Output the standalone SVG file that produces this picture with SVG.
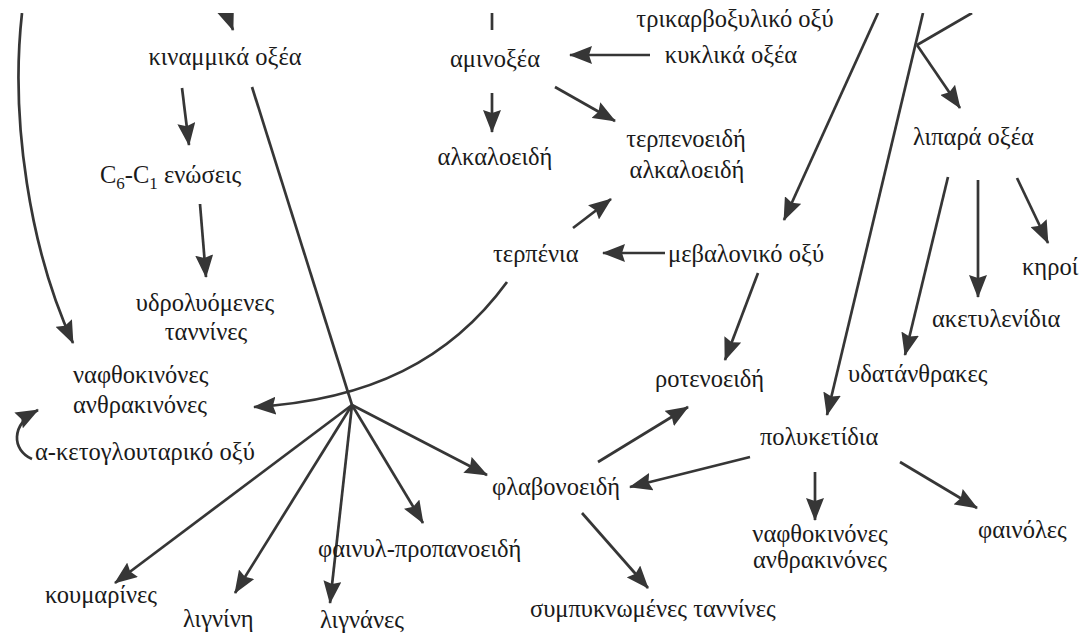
<svg xmlns="http://www.w3.org/2000/svg" width="1085" height="636" viewBox="0 0 1085 636">
<style>
.c{text-anchor:middle}
.ln{fill:none;stroke:#363636;stroke-width:2.7}
.ar{marker-end:url(#ah)}
</style>
<defs>
<marker id="ah" markerUnits="userSpaceOnUse" markerWidth="23" markerHeight="18" viewBox="0 0 23 18" refX="22" refY="9" orient="auto">
<path d="M0,0 L23,9 L0,18 L3,9 z" fill="#363636"/>
</marker>
<clipPath id="clip"><rect x="0" y="13" width="1085" height="623"/></clipPath>
</defs>
<rect width="1085" height="636" fill="#fff"/>
<g id="connectors" clip-path="url(#clip)">
<path class="ln" d="M22 13 C10 120 30 250 73 343" marker-end="url(#ah)"/>
<line class="ln ar" x1="222" y1="0" x2="233" y2="30"/>
<line class="ln" x1="492" y1="13" x2="492" y2="30"/>
<line class="ln ar" x1="182" y1="88" x2="189" y2="145"/>
<line class="ln ar" x1="200" y1="204" x2="206" y2="277"/>
<line class="ln" x1="252" y1="87" x2="352" y2="405"/>
<path class="ln ar" d="M507 282 C450 360 370 400 254 407"/>
<path class="ln ar" d="M32 459 C12 450 10 425 38 410"/>
<line class="ln ar" x1="352" y1="405" x2="115" y2="583"/>
<line class="ln ar" x1="352" y1="405" x2="235" y2="593"/>
<line class="ln ar" x1="352" y1="405" x2="330" y2="603"/>
<line class="ln ar" x1="352" y1="405" x2="423" y2="523"/>
<line class="ln ar" x1="352" y1="405" x2="487" y2="475"/>
<line class="ln ar" x1="650" y1="55" x2="570" y2="55"/>
<line class="ln ar" x1="492" y1="93" x2="492" y2="132"/>
<line class="ln ar" x1="555" y1="87" x2="615" y2="121"/>
<line class="ln ar" x1="573" y1="228" x2="611" y2="199"/>
<line class="ln ar" x1="665" y1="253" x2="603" y2="253"/>
<line class="ln ar" x1="758" y1="273" x2="725" y2="360"/>
<line class="ln ar" x1="598" y1="462" x2="688" y2="407"/>
<line class="ln ar" x1="750" y1="457" x2="630" y2="487"/>
<line class="ln ar" x1="582" y1="513" x2="648" y2="588"/>
<line class="ln ar" x1="815" y1="472" x2="815" y2="520"/>
<line class="ln ar" x1="900" y1="462" x2="977" y2="508"/>
<line class="ln ar" x1="878" y1="13" x2="784" y2="220"/>
<line class="ln ar" x1="923" y1="13" x2="827" y2="415"/>
<line class="ln" x1="972" y1="13" x2="917" y2="45"/>
<line class="ln ar" x1="917" y1="45" x2="960" y2="108"/>
<line class="ln ar" x1="948" y1="177" x2="905" y2="355"/>
<line class="ln ar" x1="978" y1="180" x2="978" y2="297"/>
<line class="ln ar" x1="1017" y1="178" x2="1048" y2="243"/>
</g>
<g font-family="'Times New Roman', 'Liberation Serif', 'DejaVu Serif', serif" font-size="24.5" fill="#1a1a1a">
<g id="kinammika"><text class="c" x="225" y="65">κιναμμικά οξέα</text></g>
<g id="c6c1"><text x="100" y="183">C<tspan font-size="17" dy="6">6</tspan><tspan dy="-6">-C</tspan><tspan font-size="17" dy="6">1</tspan><tspan dy="-6"> ενώσεις</tspan></text></g>
<g id="ydrolyomenes"><text class="c" x="205" y="311">υδρολυόμενες</text><text class="c" x="206" y="340">ταννίνες</text></g>
<g id="naftho-left"><text x="73" y="383">ναφθοκινόνες</text><text x="73" y="413">ανθρακινόνες</text></g>
<g id="ketoglout"><text x="35" y="460">α-κετογλουταρικό οξύ</text></g>
<g id="koumarines"><text x="45" y="603">κουμαρίνες</text></g>
<g id="lignini"><text x="183" y="627">λιγνίνη</text></g>
<g id="lignanes"><text x="320" y="628">λιγνάνες</text></g>
<g id="fainylpropanoeidi"><text x="318" y="557">φαινυλ-προπανοειδή</text></g>
<g id="flavonoeidi"><text x="492" y="495">φλαβονοειδή</text></g>
<g id="sympyknomenes"><text x="530" y="617">συμπυκνωμένες ταννίνες</text></g>
<g id="aminoxea"><text class="c" x="495" y="67">αμινοξέα</text></g>
<g id="alkaloeidi"><text class="c" x="495" y="165">αλκαλοειδή</text></g>
<g id="terpenoeidi"><text class="c" x="686" y="147">τερπενοειδή</text><text class="c" x="687" y="178">αλκαλοειδή</text></g>
<g id="trikarboxyliko"><text class="c" x="735" y="27">τρικαρβοξυλικό οξύ</text><text class="c" x="731" y="63">κυκλικά οξέα</text></g>
<g id="terpenia"><text x="493" y="262">τερπένια</text></g>
<g id="mevaloniko"><text x="668" y="262">μεβαλονικό οξύ</text></g>
<g id="rotenoeidi"><text x="655" y="387">ροτενοειδή</text></g>
<g id="lipara"><text x="913" y="145">λιπαρά οξέα</text></g>
<g id="kiroi"><text x="1022" y="275">κηροί</text></g>
<g id="aketylenidia"><text x="932" y="327">ακετυλενίδια</text></g>
<g id="ydatanthrakes"><text x="848" y="382">υδατάνθρακες</text></g>
<g id="polyketidia"><text x="760" y="445">πολυκετίδια</text></g>
<g id="naftho-right"><text class="c" x="820" y="542">ναφθοκινόνες</text><text class="c" x="820" y="568">ανθρακινόνες</text></g>
<g id="fainoles"><text x="978" y="538">φαινόλες</text></g>
</g>
</svg>
